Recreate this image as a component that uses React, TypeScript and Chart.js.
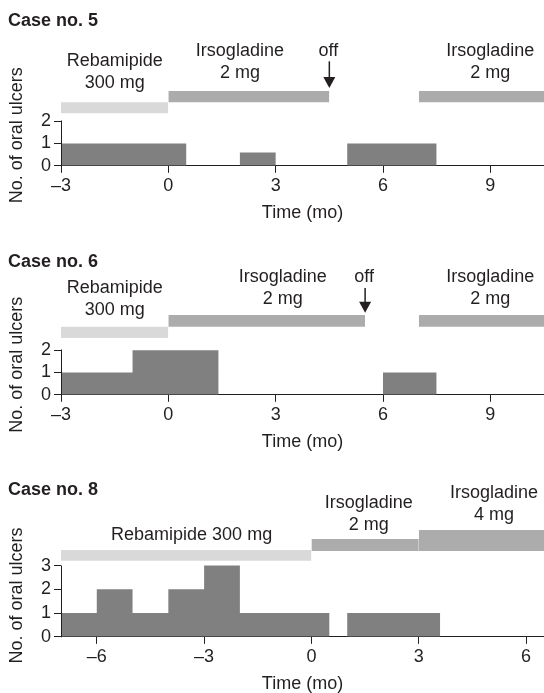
import React, { useEffect, useRef } from "react";
import { Chart, registerables } from "chart.js";

Chart.register(...registerables);

const FONT = '"Liberation Sans", Arial, Helvetica, sans-serif';
const INK = "#231f20";
const ULCER_COLOR = "#808080";
const DRUG_COLORS: Record<string, string> = { Rebamipide: "#d9d9d9", Irsogladine: "#acacac" };
const LINE_H = 22.5;
const Y_TITLE = "No. of oral ulcers";
const X_TITLE = "Time (mo)";

// ---------- Case no. 5 ----------
const case5Title = "Case no. 5";
const case5XRange = [-3, 10.5];
const case5XTicks = [-3, 0, 3, 6, 9];
const case5YTicks = [0, 1, 2];
const case5UlcerStart = [-3, 2, 5];
const case5UlcerEnd = [0.5, 3, 7.5];
const case5UlcerCount = [1, 0.6, 1];
const case5DrugName = ["Rebamipide", "Irsogladine", "Irsogladine"];
const case5DrugStart = [-3, 0, 7];
const case5DrugEnd = [0, 4.5, 10.5];
const case5DrugLow = [2.35, 2.85, 2.85];
const case5DrugHigh = [2.85, 3.35, 3.35];
const case5LabelLines = [["Rebamipide", "300 mg"], ["Irsogladine", "2 mg"], ["Irsogladine", "2 mg"]];
const case5LabelX = [-1.5, 2, 9];
const case5LabelY = [4.71, 5.16, 5.16];
const case5OffX = [4.5];
const case5OffTextY = [5.12];
const case5OffArrowTop = [4.68];
const case5OffArrowTip = [3.48];
const case5YTitleAt = 1.37;

// ---------- Case no. 6 ----------
const case6Title = "Case no. 6";
const case6XRange = [-3, 10.5];
const case6XTicks = [-3, 0, 3, 6, 9];
const case6YTicks = [0, 1, 2];
const case6UlcerStart = [-3, -1, 6];
const case6UlcerEnd = [-1, 1.4, 7.5];
const case6UlcerCount = [1, 2, 1];
const case6DrugName = ["Rebamipide", "Irsogladine", "Irsogladine"];
const case6DrugStart = [-3, 0, 7];
const case6DrugEnd = [0, 5.5, 10.5];
const case6DrugLow = [2.55, 3.05, 3.05];
const case6DrugHigh = [3.05, 3.58, 3.58];
const case6LabelLines = [["Rebamipide", "300 mg"], ["Irsogladine", "2 mg"], ["Irsogladine", "2 mg"]];
const case6LabelX = [-1.5, 3.2, 9];
const case6LabelY = [4.79, 5.29, 5.29];
const case6OffX = [5.5];
const case6OffTextY = [5.29];
const case6OffArrowTop = [4.79];
const case6OffArrowTip = [3.68];
const case6YTitleAt = 1.35;

// ---------- Case no. 8 ----------
const case8Title = "Case no. 8";
const case8XRange = [-7, 6.5];
const case8XTicks = [-6, -3, 0, 3, 6];
const case8YTicks = [0, 1, 2, 3];
const case8UlcerStart = [-7, -6, -5, -4, -3, -2, 1];
const case8UlcerEnd = [-6, -5, -4, -3, -2, 0.5, 3.6];
const case8UlcerCount = [1, 2, 1, 2, 3, 1, 1];
const case8DrugName = ["Rebamipide", "Irsogladine", "Irsogladine"];
const case8DrugStart = [-7, 0, 3];
const case8DrugEnd = [0, 3, 6.5];
const case8DrugLow = [3.2, 3.62, 3.62];
const case8DrugHigh = [3.66, 4.12, 4.5];
const case8LabelLines = [["Rebamipide 300 mg"], ["Irsogladine", "2 mg"], ["Irsogladine", "4 mg"]];
const case8LabelX = [-3.35, 1.6, 5.1];
const case8LabelY = [4.29, 5.64, 6.07];
const case8OffX: number[] = [];
const case8OffTextY: number[] = [];
const case8OffArrowTop: number[] = [];
const case8OffArrowTip: number[] = [];
const case8YTitleAt = 1.74;

type Cfg = {
  title: string;
  xRange: number[];
  xTicks: number[];
  yTicks: number[];
  ulcerStart: number[];
  ulcerEnd: number[];
  ulcerCount: number[];
  drugName: string[];
  drugStart: number[];
  drugEnd: number[];
  drugLow: number[];
  drugHigh: number[];
  labelLines: string[][];
  labelX: number[];
  labelY: number[];
  offX: number[];
  offTextY: number[];
  offArrowTop: number[];
  offArrowTip: number[];
  yTitleAt: number;
};

const panels: Cfg[] = [
  {
    title: case5Title, xRange: case5XRange, xTicks: case5XTicks, yTicks: case5YTicks,
    ulcerStart: case5UlcerStart, ulcerEnd: case5UlcerEnd, ulcerCount: case5UlcerCount,
    drugName: case5DrugName, drugStart: case5DrugStart, drugEnd: case5DrugEnd,
    drugLow: case5DrugLow, drugHigh: case5DrugHigh,
    labelLines: case5LabelLines, labelX: case5LabelX, labelY: case5LabelY,
    offX: case5OffX, offTextY: case5OffTextY, offArrowTop: case5OffArrowTop, offArrowTip: case5OffArrowTip,
    yTitleAt: case5YTitleAt,
  },
  {
    title: case6Title, xRange: case6XRange, xTicks: case6XTicks, yTicks: case6YTicks,
    ulcerStart: case6UlcerStart, ulcerEnd: case6UlcerEnd, ulcerCount: case6UlcerCount,
    drugName: case6DrugName, drugStart: case6DrugStart, drugEnd: case6DrugEnd,
    drugLow: case6DrugLow, drugHigh: case6DrugHigh,
    labelLines: case6LabelLines, labelX: case6LabelX, labelY: case6LabelY,
    offX: case6OffX, offTextY: case6OffTextY, offArrowTop: case6OffArrowTop, offArrowTip: case6OffArrowTip,
    yTitleAt: case6YTitleAt,
  },
  {
    title: case8Title, xRange: case8XRange, xTicks: case8XTicks, yTicks: case8YTicks,
    ulcerStart: case8UlcerStart, ulcerEnd: case8UlcerEnd, ulcerCount: case8UlcerCount,
    drugName: case8DrugName, drugStart: case8DrugStart, drugEnd: case8DrugEnd,
    drugLow: case8DrugLow, drugHigh: case8DrugHigh,
    labelLines: case8LabelLines, labelX: case8LabelX, labelY: case8LabelY,
    offX: case8OffX, offTextY: case8OffTextY, offArrowTop: case8OffArrowTop, offArrowTip: case8OffArrowTip,
    yTitleAt: case8YTitleAt,
  },
];

// layout (pixels): panel top, canvas height, title padding top/bottom
const geometry = [
  { top: 0, height: 228, titleTop: 10, titleBottom: 59.4 },
  { top: 240, height: 217, titleTop: 11.5, titleBottom: 41.9 },
  { top: 470, height: 229, titleTop: 9, titleBottom: 29.4 },
];

const fmt = (v: number) => (v < 0 ? "\u2013" + Math.abs(v) : String(v));

function Panel({ cfg, geo }: { cfg: Cfg; geo: (typeof geometry)[number] }) {
  const ref = useRef<HTMLCanvasElement>(null);

  useEffect(() => {
    if (!ref.current) return;

    const ulcerPts: { x: number; y: number }[] = [];
    for (let i = 0; i < cfg.ulcerStart.length; i++) {
      ulcerPts.push({ x: cfg.ulcerStart[i], y: cfg.ulcerCount[i] });
      const next = cfg.ulcerStart[i + 1];
      if (next === undefined || next !== cfg.ulcerEnd[i]) ulcerPts.push({ x: cfg.ulcerEnd[i], y: 0 });
    }

    const drugSets = cfg.drugName.map((name, i) => ({
      label: name,
      data: [
        { x: cfg.drugStart[i], y: cfg.drugHigh[i] },
        { x: cfg.drugEnd[i], y: cfg.drugHigh[i] },
      ],
      fill: { value: cfg.drugLow[i] },
      backgroundColor: DRUG_COLORS[name],
      borderColor: "rgba(0,0,0,0)",
      borderWidth: 0,
      pointRadius: 0,
    }));

    const yMax = Math.max(...cfg.drugHigh);

    const annot = {
      id: "annot",
      afterDraw(chart: any) {
        const { ctx, chartArea } = chart;
        const xs = chart.scales.x;
        const ys = chart.scales.y;
        ctx.save();
        // y axis line (0 .. top tick)
        const ax = Math.round(chartArea.left - 0.5) + 0.5;
        ctx.strokeStyle = INK;
        ctx.lineWidth = 1;
        ctx.beginPath();
        ctx.moveTo(ax, ys.getPixelForValue(0) + 0.5);
        ctx.lineTo(ax, Math.round(ys.getPixelForValue(cfg.yTicks[cfg.yTicks.length - 1])) - 0.5);
        ctx.stroke();

        // treatment labels
        ctx.fillStyle = INK;
        ctx.font = `18px ${FONT}`;
        ctx.textAlign = "center";
        ctx.textBaseline = "middle";
        cfg.labelLines.forEach((lines, i) => {
          const px = xs.getPixelForValue(cfg.labelX[i]);
          const py = ys.getPixelForValue(cfg.labelY[i]);
          lines.forEach((t, j) => ctx.fillText(t, px, py + j * LINE_H));
        });

        // "off" arrows
        cfg.offX.forEach((ox, i) => {
          const px = xs.getPixelForValue(ox);
          ctx.fillText("off", px - 1, ys.getPixelForValue(cfg.offTextY[i]));
          const top = ys.getPixelForValue(cfg.offArrowTop[i]);
          const tip = ys.getPixelForValue(cfg.offArrowTip[i]);
          ctx.lineWidth = 1.5;
          ctx.beginPath();
          ctx.moveTo(px, top);
          ctx.lineTo(px, tip - 9);
          ctx.stroke();
          ctx.beginPath();
          ctx.moveTo(px - 6, tip - 11);
          ctx.lineTo(px + 6, tip - 11);
          ctx.lineTo(px, tip);
          ctx.closePath();
          ctx.fill();
        });

        // y-axis title
        ctx.translate(17.5, ys.getPixelForValue(cfg.yTitleAt));
        ctx.rotate(-Math.PI / 2);
        ctx.fillText(Y_TITLE, 0, 0);
        ctx.restore();
      },
    };

    const chart = new Chart(ref.current, {
      type: "line",
      data: {
        datasets: [
          ...drugSets,
          {
            label: "Oral ulcers",
            data: ulcerPts,
            stepped: "before",
            fill: "origin",
            backgroundColor: ULCER_COLOR,
            borderColor: "rgba(0,0,0,0)",
            borderWidth: 0,
            pointRadius: 0,
          },
        ] as any,
      },
      options: {
        animation: false,
        responsive: true,
        maintainAspectRatio: false,
        events: [],
        layout: { padding: { left: 8, right: 0, top: 0, bottom: 0 } },
        plugins: {
          legend: { display: false },
          tooltip: { enabled: false },
          title: {
            display: true,
            text: cfg.title,
            align: "start",
            color: INK,
            font: { family: FONT, size: 18, weight: "bold" },
            padding: { top: geo.titleTop, bottom: geo.titleBottom },
          },
        },
        scales: {
          x: {
            type: "linear",
            min: cfg.xRange[0],
            max: cfg.xRange[1],
            z: 1,
            afterBuildTicks: (s: any) => {
              s.ticks = cfg.xTicks.map((v) => ({ value: v }));
            },
            ticks: {
              color: INK,
              font: { family: FONT, size: 18 },
              padding: 2,
              maxRotation: 0,
              autoSkip: false,
              callback: (v: any) => fmt(Number(v)),
            },
            grid: { display: true, drawOnChartArea: false, drawTicks: true, tickLength: 7, color: INK, lineWidth: 1 },
            border: { display: true, color: INK, width: 1 },
            title: {
              display: true,
              text: X_TITLE,
              color: INK,
              font: { family: FONT, size: 18 },
              padding: { top: 4, bottom: 4 },
            },
          },
          y: {
            type: "linear",
            min: 0,
            max: yMax,
            afterBuildTicks: (s: any) => {
              s.ticks = cfg.yTicks.map((v) => ({ value: v }));
            },
            afterFit: (s: any) => {
              s.width = 53;
            },
            ticks: {
              color: INK,
              font: { family: FONT, size: 18 },
              padding: 3,
              autoSkip: false,
              callback: (v: any) => fmt(Number(v)),
            },
            grid: { display: true, drawOnChartArea: false, drawTicks: true, tickLength: 7, color: INK, lineWidth: 1 },
            border: { display: false },
          },
        },
      } as any,
      plugins: [annot],
    });

    return () => chart.destroy();
  }, [cfg, geo]);

  return (
    <div style={{ position: "absolute", left: 0, top: geo.top, width: 544, height: geo.height }}>
      <canvas ref={ref} />
    </div>
  );
}

export default function App() {
  useEffect(() => {
    document.body.style.margin = "0";
  }, []);
  return (
    <div
      style={{
        position: "absolute",
        left: 0,
        top: 0,
        width: 544,
        height: 693,
        overflow: "hidden",
        background: "#ffffff",
      }}
    >
      {panels.map((cfg, i) => (
        <Panel key={i} cfg={cfg} geo={geometry[i]} />
      ))}
    </div>
  );
}
